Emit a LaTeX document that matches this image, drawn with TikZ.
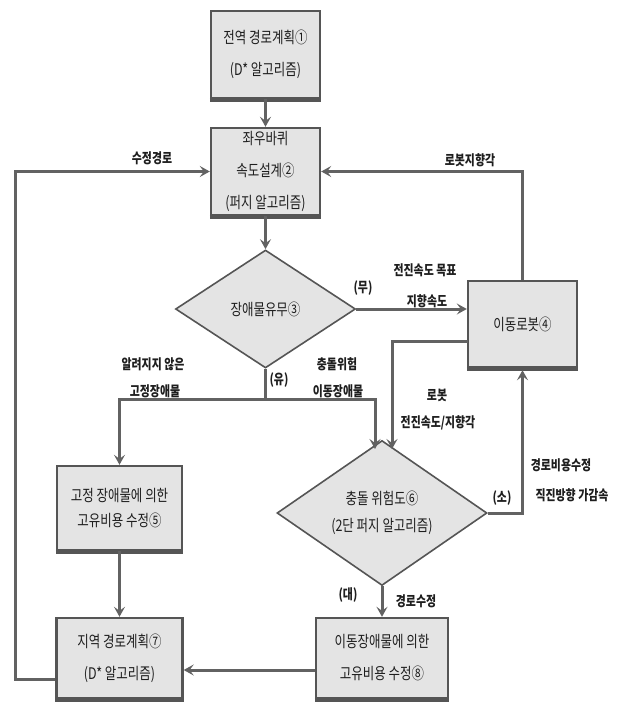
\documentclass[tikz,border=0pt]{standalone}
\usepackage{fontspec}
\usetikzlibrary{arrows.meta,shapes.geometric}
\newfontfamily\kr[FakeStretch=0.78]{Noto Sans CJK KR}
\definecolor{boxfill}{HTML}{E4E4E4}
\definecolor{edge}{HTML}{555555}
\definecolor{wire}{HTML}{626262}
\definecolor{ink}{HTML}{1E1E1E}
\tikzset{
  box/.style={draw=edge, line width=2.4pt, fill=boxfill, inner sep=0pt, align=center,
    text=ink, font=\kr\fontsize{16}{32}\selectfont},
  dia/.style={draw=edge, line width=1.6pt, fill=boxfill, diamond, inner sep=0pt, align=center,
    text=ink, font=\kr\fontsize{16}{27}\selectfont},
  arr/.style={draw=wire, line width=3pt, -{Stealth[length=10pt,width=11pt,inset=4pt]}},
  wire/.style={draw=wire, line width=3pt},
  lbl/.style={text=ink, inner sep=0pt, font=\kr\bfseries\fontsize{14}{16}\selectfont},
  shadowline/.style={draw=edge, line width=4.5pt}
}
\begin{document}
\begin{tikzpicture}[x=1pt,y=-1pt]
\useasboundingbox (0,0) rectangle (629,702);
% boxes
\node[box, minimum width=109, minimum height=87] (b1) at (265.5,54.5) {전역 경로계획①\\(D* 알고리즘)};
\node[box, minimum width=109, minimum height=87] (b2) at (265.5,171.5) {좌우바퀴\\속도설계②\\(퍼지 알고리즘)};
\node[box, minimum width=109, minimum height=86] (b4) at (522.5,324) {이동로봇④};
\node[box, minimum width=125, minimum height=84, font=\kr\fontsize{16}{25}\selectfont] (b5) at (119.5,508) {고정 장애물에 의한\\고유비용 수정⑤};
\node[box, minimum width=126, minimum height=80] (b7) at (119.5,658) {지역 경로계획⑦\\(D* 알고리즘)};
\node[box, minimum width=132, minimum height=80] (b8) at (382,658) {이동장애물에 의한\\고유비용 수정⑧};
% diamonds
\node[dia, minimum width=180, minimum height=118] (d3) at (265.5,309) {장애물유무③};
\node[dia, minimum width=210, minimum height=130] (d6) at (382,513) {충돌 위험도⑥\\(2단 퍼지 알고리즘)};
% shadows
\foreach \n in {b1,b2,b4,b5,b7,b8}{
  \draw[shadowline] ([yshift=-1pt]\n.south west) -- ([yshift=-1pt]\n.south east);
}
% helper coordinates
\coordinate (r1) at (468,341);
\coordinate (r2) at (392,449);
\coordinate (j) at (265.5,399);
\coordinate (r3) at (375,449);
\coordinate (l1) at (15,679);
% connectors
\draw[arr] (b1) -- (b2);
\draw[arr] (b2) -- (d3);
\draw[arr] (d3.east) -- (d3.east -| b4.west);
\draw[arr] (b4.north) |- (b2.east);
\draw[arr] (r1) -| (r2);
\draw[wire] (d3.south) -- (j);
\draw[arr] (j) -| (b5.north);
\draw[arr] (j) -| (r3);
\draw[arr] (b5) -- (b7);
\draw[arr] (d6.south) -- (b8.north);
\draw[arr] ([yshift=-12pt]b8.west) -- ([yshift=-12pt]b7.east);
\draw[arr] ([yshift=-21pt]b7.west) -- (l1) |- (b2.west);
\draw[arr, shorten >=-1pt] (d6.east) -| ([yshift=-3pt]b4.south);
% labels
\node[lbl] (t1) at (152,158) {수정경로};
\node[lbl] (t2) at (470,160) {로봇지향각};
\node[lbl] (t3) at (363,288) {(무)};
\node[lbl] (t4) at (425,270) {전진속도 목표};
\node[lbl] (t5) at (427,301) {지향속도};
\node[lbl] (t6) at (153,364) {알려지지 않은};
\node[lbl] (t7) at (155,391) {고정장애물};
\node[lbl] (t8) at (279,380) {(유)};
\node[lbl] (t9) at (337,364) {충돌위험};
\node[lbl] (t10) at (338,391) {이동장애물};
\node[lbl] (t11) at (437,395) {로봇};
\node[lbl] (t12) at (438,423) {전진속도/지향각};
\node[lbl] (t13) at (561,465) {경로비용수정};
\node[lbl] (t14) at (572,495) {직진방향 가감속};
\node[lbl] (t15) at (502,498) {(소)};
\node[lbl] (t16) at (348,595) {(대)};
\node[lbl] (t17) at (416,601) {경로수정};
\end{tikzpicture}
\end{document}
